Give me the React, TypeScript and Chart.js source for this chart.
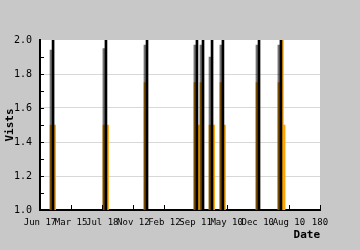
import React, { useEffect, useRef } from "react";
import { Chart, registerables } from "chart.js";
Chart.register(...registerables);

const FONT = "'DejaVu Sans Mono', monospace";

// x axis: day index 0..180, tick every 20
const xTickLabels = ["Jun 17", "Mar 15", "Jul 18", "Nov 12", "Feb 12", "Sep 11", "May 10", "Dec 10", "Aug 10", "180"];

// black spikes (run past the top of the axis)
const spikeDays = [8.4, 42.4, 68.8, 100.9, 104.8, 110.6, 117.6, 140.8, 154.9];
const spikeValues = [2.6, 2.6, 2.6, 2.6, 2.6, 2.6, 2.6, 2.6, 2.6];

// dark translucent overlay just left of each spike
const shadeDays = [7.4, 41.4, 67.8, 99.9, 103.8, 109.6, 116.6, 139.8, 153.9];
const shadeValues = [1.94, 1.95, 1.97, 1.97, 1.97, 1.9, 1.97, 1.97, 1.97];

// orange visits under the overlay
const visitDays = [7.4, 41.4, 67.8, 99.9, 103.8, 109.6, 116.6, 139.8, 153.9];
const visitValues = [1.5, 1.5, 1.75, 1.75, 1.75, 1.5, 1.75, 1.75, 1.75];

// bright orange visits right of the spikes
const peakDays = [9.4, 43.4, 101.9, 111.6, 118.6, 155.8, 156.9];
const peakValues = [1.5, 1.5, 1.5, 1.5, 1.5, 2.0, 1.5];

const pts = (xs: number[], ys: number[]) => xs.map((x, i) => ({ x, y: ys[i] }));

const framePlugin = {
  id: "frame",
  beforeDraw(chart: any) {
    const { ctx, chartArea: a } = chart;
    ctx.save();
    ctx.fillStyle = "#c8c8c8";
    ctx.fillRect(0, 0, chart.width, chart.height);
    ctx.fillStyle = "#ffffff";
    ctx.fillRect(a.left, a.top, a.right - a.left, a.bottom - a.top);
    ctx.restore();
  },
  afterDraw(chart: any) {
    const { ctx, chartArea: a, scales } = chart;
    ctx.save();
    ctx.strokeStyle = "#000";
    ctx.lineWidth = 1;
    ctx.beginPath();
    for (let k = 1; k < 10; k++) {
      const y = Math.round(scales.y.getPixelForValue(1 + k / 10)) + 0.5;
      ctx.moveTo(a.left, y);
      ctx.lineTo(a.left + 4, y);
    }
    for (let d = 20; d <= 180; d += 20) {
      const x = Math.round(scales.x.getPixelForValue(d)) + 0.5;
      ctx.moveTo(x, a.bottom);
      ctx.lineTo(x, a.bottom - 5);
    }
    ctx.stroke();
    ctx.restore();
  },
};

export default function App() {
  const ref = useRef<HTMLCanvasElement>(null);
  useEffect(() => {
    document.body.style.margin = "0";
    const chart = new Chart(ref.current!, {
      type: "bar",
      data: {
        datasets: [
          { data: pts(spikeDays, spikeValues), backgroundColor: "#000000", barThickness: 2, grouped: false, order: 0 } as any,
          { data: pts(shadeDays, shadeValues), backgroundColor: "rgba(0,0,0,0.55)", barThickness: 3, grouped: false, order: 1 } as any,
          { data: pts(visitDays, visitValues), backgroundColor: "#ffa500", barThickness: 3, grouped: false, order: 2 } as any,
          { data: pts(peakDays, peakValues), backgroundColor: "#ffa500", barThickness: 2, grouped: false, order: 3 } as any,
        ],
      },
      options: {
        animation: false,
        responsive: false,
        events: [],
        layout: { padding: { left: 0, top: 40, right: 40, bottom: 0 } },
        plugins: { legend: { display: false }, tooltip: { enabled: false } },
        scales: {
          x: {
            type: "linear",
            min: 0,
            max: 180,
            offset: false,
            afterFit: (s: any) => { s.height = 40; },
            grid: { display: false, drawTicks: false },
            border: { color: "#000", width: 2 },
            ticks: {
              stepSize: 20,
              autoSkip: false,
              maxRotation: 0,
              padding: 7,
              color: "#000",
              font: { family: FONT, size: 9 },
              callback: (v: any) => xTickLabels[Math.round(v / 20)] ?? "",
            },
            title: {
              display: true,
              text: "Date",
              align: "end",
              color: "#000",
              padding: { top: 4, bottom: 8 },
              font: { family: FONT, size: 11, weight: "bold" },
            },
          },
          y: {
            min: 1,
            max: 2,
            afterFit: (s: any) => { s.width = 40; },
            grid: {
              drawTicks: false,
              color: (c: any) => (c.tick && c.tick.value >= 2 ? "rgba(0,0,0,0)" : "#d8d8d8"),
            },
            border: { color: "#000", width: 2 },
            ticks: {
              stepSize: 0.2,
              padding: 8,
              color: "#000",
              font: { family: FONT, size: 10 },
              callback: (v: any) => Number(v).toFixed(1),
            },
            title: {
              display: true,
              text: "Vists",
              color: "#000",
              padding: { top: 4, bottom: 4 },
              font: { family: FONT, size: 11, weight: "bold" },
            },
          },
        },
      } as any,
      plugins: [framePlugin],
    });
    return () => chart.destroy();
  }, []);
  return <canvas ref={ref} width={360} height={250} style={{ display: "block" }} />;
}
